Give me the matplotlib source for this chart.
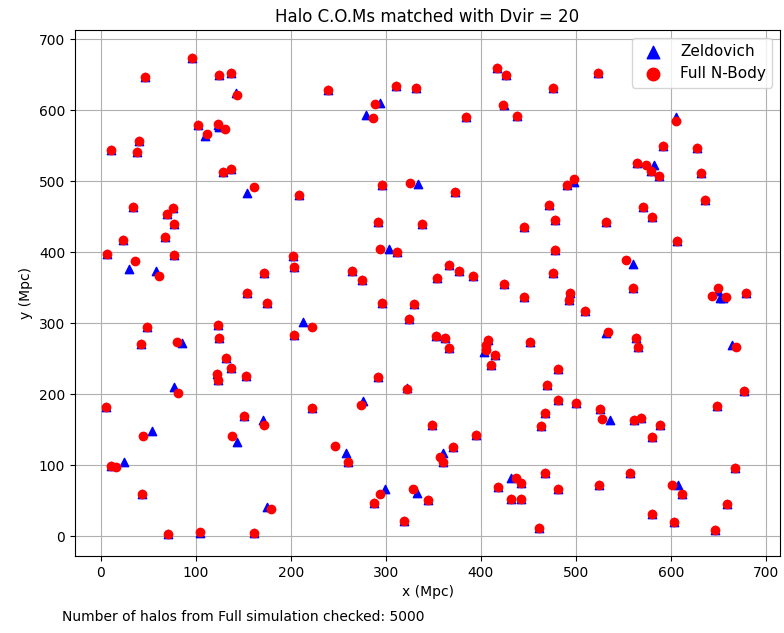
import matplotlib
matplotlib.use("Agg")
import matplotlib.pyplot as plt

# halo centres of mass (Mpc)
zel_x = [96, 47, 124, 137, 142, 102, 109.5, 123.5, 124, 40.7, 10.5, 38, 129, 137.5, 153.7, 34.4, 76,
         239, 311, 332, 294, 279, 209, 296, 334, 417, 427, 523, 476, 424, 438, 384, 372.6, 498, 491, 472,
         605, 592, 628, 564, 582, 579, 588, 631.6, 636.5, 571, 69.5, 77.5, 24, 68, 7, 77, 29.5, 58, 154,
         49, 123, 42, 86, 125, 132, 137, 122.5, 123.5, 153, 77, 291.6, 338, 303.5, 311.6, 202, 203, 172,
         264, 275, 353.7, 175.5, 296, 329.5, 324.5, 212.6, 203, 353, 292, 322, 445, 478, 531.6, 478, 367,
         377, 392, 476, 424, 446, 494.4, 493, 510, 532, 362, 366.6, 407.7, 406, 403, 414.7, 411, 451.6,
         481, 469.5, 579.7, 606, 559.7, 560, 652, 650, 655, 679, 563, 566, 664, 677, 6, 53.7, 25, 10.5,
         43, 70.5, 104, 161, 150.5, 143.5, 170.5, 222.4, 275.8, 349, 258, 260.7, 360, 360, 299, 287.7,
         332.6, 344, 319, 175, 481, 500, 526, 536.5, 467.4, 463, 394.7, 370.5, 431.6, 442, 418, 432, 442,
         467.4, 481, 461, 524.5, 648.7, 561, 569, 588.4, 580, 557, 608, 612, 668, 659, 580, 603, 646]
zel_y = [674, 647, 649, 652, 624, 579, 564, 579, 576, 557, 544, 541, 513, 517, 483, 464, 462,
         628, 634, 632, 610, 593, 481, 495, 496, 660, 650, 653, 632, 607, 592.5, 591, 485.5, 499, 495, 466,
         591, 549, 546.5, 526, 523, 514.5, 507, 511, 473, 464, 453.5, 440, 417, 421.5, 397, 396, 377, 374, 342,
         295, 297, 270, 272, 279, 251, 237, 228, 220, 226, 210.3, 442.7, 440, 405, 400.4, 394, 379, 371,
         373.7, 361, 363, 329, 328, 327, 305.6, 302, 284, 281.7, 224, 209, 435.7, 445, 442.7, 402.8, 381.7,
         373, 366, 370, 355, 336.6, 343, 333, 317, 286, 278.5, 265, 276, 269, 259.6, 255, 241, 273.7,
         234.8, 212.7, 449, 415.5, 384, 349, 334.8, 345, 336, 342.7, 278.5, 266.7, 269, 204, 181.7, 148.3, 103.8, 98.6,
         58.7, 3.3, 4, 4.7, 169, 132, 164, 180.7, 191, 156, 117.3, 103.8, 116.5, 104.6, 67, 47.4,
         61, 50.7, 21, 41.3, 191.5, 187, 179, 163.8, 172.8, 155, 143, 125, 81.3, 75, 69.4, 52.5, 52.5,
         89, 66, 10.8, 71.8, 183.5, 163, 167, 157, 140, 88.7, 71.8, 58.7, 95.4, 44.6, 31.4, 20, 8.5]

nb_x = [96, 47, 124, 137, 143.5, 102, 112, 123.5, 131, 40.7, 10.5, 38, 129, 137.5, 161, 34.4, 76,
        239, 311, 332, 289, 286.6, 209, 296, 326, 417, 427, 523, 476, 423, 438, 384, 372.6, 498, 491, 472,
        605.6, 592, 628, 564, 574, 579, 588, 631.6, 636.5, 571, 69.5, 77.5, 24, 68, 7, 77, 36, 61, 154,
        49, 123, 42, 80, 125, 132, 137, 122.5, 123.5, 153, 81, 291.6, 338, 294, 311.6, 202, 203, 172,
        264, 275, 353.7, 175.5, 296, 329.5, 324.5, 222.4, 203, 353, 292, 322, 445, 478, 531.6, 478, 367,
        377, 392, 476, 424, 446, 494.4, 493, 510, 534, 362, 366.6, 407.7, 406, 405, 414.7, 411, 451.6,
        481, 469.5, 579.7, 606, 552.6, 560, 643.5, 650, 658.6, 679, 563, 566, 669, 677, 6, 45, 16.5, 10.5,
        43, 70.5, 104, 161, 150.5, 138.6, 172, 222.4, 273.7, 349, 247, 260.7, 357, 360, 294, 287.7,
        328.4, 344, 319, 179, 481, 500, 526, 528, 467.4, 463, 394.7, 370.5, 437.6, 442, 418, 432, 442,
        467.4, 481, 461, 524.5, 648.7, 561, 569, 588.4, 580, 557, 601, 612, 668, 659, 580, 603, 646]
nb_y = [674, 647, 649, 652, 621, 579, 566, 581, 573, 557, 544, 541, 513, 517, 492.5, 464, 462,
        628, 634, 632, 609, 589, 481, 495, 498, 660, 650, 653, 632, 608, 592.5, 591, 485.5, 503, 495, 466,
        585, 549, 546.5, 526, 523, 514.5, 507, 511, 473, 464, 453.5, 440, 417, 421.5, 397, 396, 387, 366.6, 342,
        295, 297, 270, 273, 279, 251, 237, 228, 220, 226, 202, 442.7, 440, 405, 400.4, 394, 379, 371,
        373.7, 361, 363, 329, 328, 327, 305.6, 294, 284, 281.7, 224, 207, 435.7, 445, 442.7, 402.8, 381.7,
        373, 366, 370, 355, 336.6, 343, 333, 317, 288, 278.5, 265, 276, 269, 262, 255, 241, 273.7,
        234.8, 212.7, 449, 415.5, 389.7, 349, 338.5, 349.7, 337, 342.7, 278.5, 266.7, 266.7, 204, 181.7, 141, 97.6, 98.6,
        58.7, 3.3, 5.5, 4.7, 169, 141, 157, 180.7, 184.5, 156, 126.8, 103.8, 111.7, 104.6, 59.6, 47.4,
        66, 50.7, 21, 38, 191.5, 187, 179, 165, 172.8, 155, 143, 125, 81.3, 75, 69.4, 52.5, 52.5,
        89, 66, 10.8, 71.8, 183.5, 163, 167, 157, 140, 88.7, 71.8, 58.7, 95.4, 44.6, 31.4, 20, 8.5]

dvir = 20
n_checked = 5000

fig = plt.figure(figsize=(7.84, 6.33), dpi=100)
ax = fig.add_axes([0.0957, 0.1216, 0.8993, 0.831])
ax.scatter(zel_x, zel_y, marker='^', color='blue', label='Zeldovich')
ax.scatter(nb_x, nb_y, marker='o', color='red', label='Full N-Body')
ax.set_xlim(-27, 715)
ax.set_ylim(-28, 713)
ax.set_xlabel('x (Mpc)')
ax.set_ylabel('y (Mpc)')
ax.set_title('Halo C.O.Ms matched with Dvir = %d' % dvir)
ax.grid(True)
ax.set_axisbelow(True)
ax.legend(loc='upper right', markerscale=1.5, fontsize=11)
fig.text(0.079, 0.019, 'Number of halos from Full simulation checked: %d' % n_checked)
fig.savefig('out.png', dpi=100)
